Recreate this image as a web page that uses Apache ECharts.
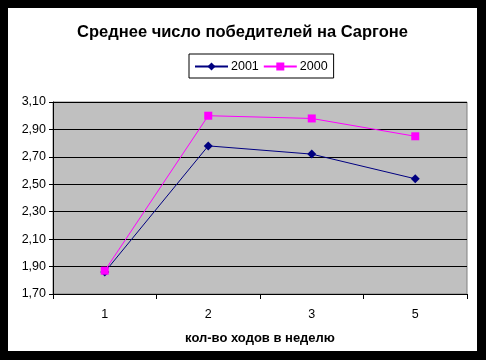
<!DOCTYPE html>
<html><head><meta charset="utf-8">
<script src="https://cdn.jsdelivr.net/npm/echarts@6/dist/echarts.min.js"></script>
<style>
html,body{margin:0;padding:0;background:#000;width:486px;height:360px;overflow:hidden}
#c{position:absolute;left:8px;top:8px;width:469px;height:343px;background:#fff}
</style></head><body>
<div id="c"></div>
<script>
const categories = ['1','2','3','5'];
const s2001 = [1.86, 2.78, 2.72, 2.54];
const s2000 = [1.87, 3.00, 2.98, 2.85];
const yMin = 1.7, yMax = 3.1, yStep = 0.2;

const chart = echarts.init(document.getElementById('c'), null, {renderer:'canvas'});
const font = 'Arial, "Liberation Sans", sans-serif';
chart.setOption({
  animation:false,
  textStyle:{fontFamily:font},
  title:{text:'Среднее число победителей на Саргоне', left:'center', top:11,
    textStyle:{fontFamily:font, fontSize:16.5, fontWeight:'bold', color:'#000'}},
  legend:{left:181, top:46, borderColor:'#000', borderWidth:1, borderRadius:0,
    padding:[6,6,5,5], itemWidth:33, itemHeight:10, itemGap:4,
    textStyle:{fontFamily:font, fontSize:12.5, color:'#000', padding:[0,0,0,-2]},
    data:['2001','2000']},
  grid:{left:45, top:94, right:10, bottom:57, show:true, backgroundColor:'#C0C0C0', borderColor:'#808080', borderWidth:1},
  xAxis:{type:'category', data:categories, boundaryGap:true,
    name:'кол-во ходов в неделю', nameLocation:'middle', nameGap:38,
    nameTextStyle:{fontFamily:font, fontSize:13, fontWeight:'bold', color:'#000'},
    axisLine:{lineStyle:{color:'#000', width:1}},
    axisTick:{show:true, length:5, lineStyle:{color:'#000'}},
    axisLabel:{color:'#000', fontSize:12.5, margin:14, fontFamily:font}},
  yAxis:{type:'value', min:yMin, max:yMax, interval:yStep,
    axisLine:{show:true, lineStyle:{color:'#000', width:1}},
    axisTick:{show:true, length:4, lineStyle:{color:'#000'}},
    splitLine:{show:true, lineStyle:{color:'#000', width:1}},
    axisLabel:{color:'#000', fontSize:12.5, margin:7, fontFamily:font,
      formatter:v=>v.toFixed(2).replace('.',',')}},
  series:[
    {name:'2001', type:'line', data:s2001, symbol:'diamond', symbolSize:9,
      itemStyle:{color:'#000080'}, lineStyle:{color:'#000080', width:1}},
    {name:'2000', type:'line', data:s2000, symbol:'rect', symbolSize:8,
      itemStyle:{color:'#FF00FF'}, lineStyle:{color:'#FF00FF', width:1}}
  ]
});
</script></body></html>
